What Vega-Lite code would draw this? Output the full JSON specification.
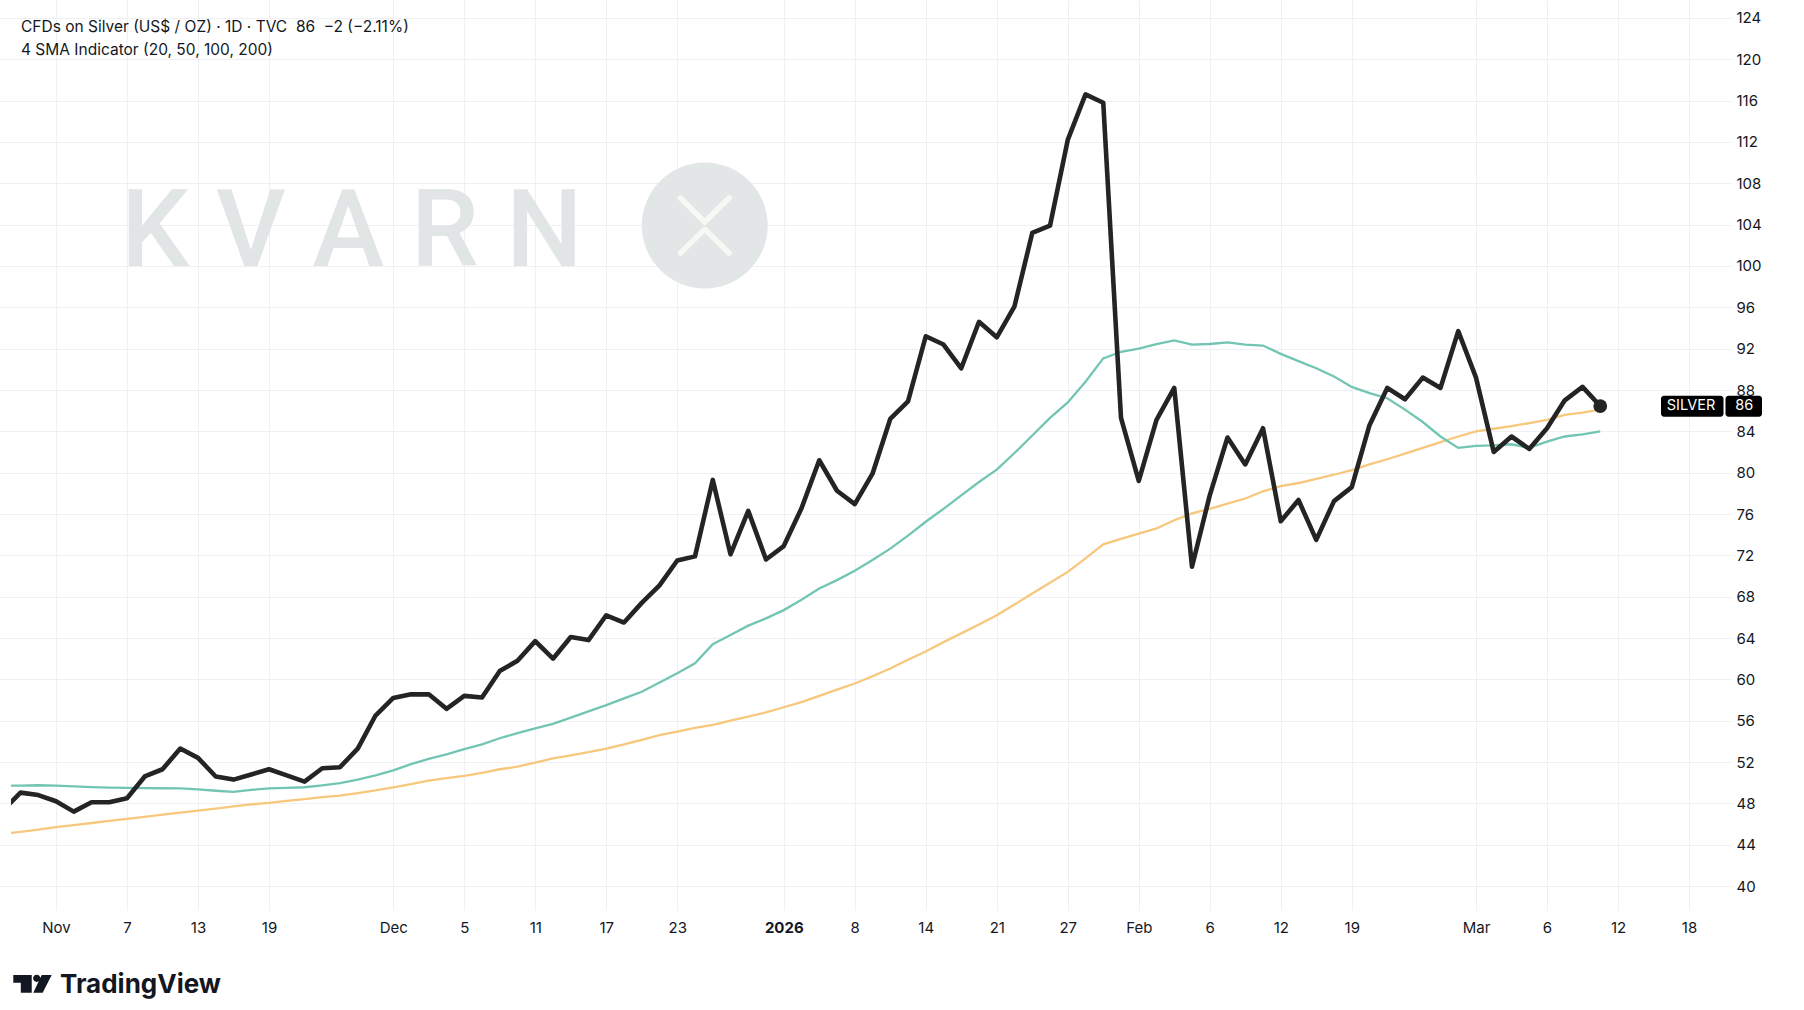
{
  "$schema": "https://vega.github.io/schema/vega-lite/v6.json",
  "width": 1712,
  "height": 910,
  "autosize": {"type": "none"},
  "padding": {"left": 11, "top": 0, "right": 81, "bottom": 100},
  "background": "#ffffff",
  "config": {
    "view": {"stroke": null},
    "font": "Inter",
    "axis": {
      "labelFont": "Inter",
      "labelFontSize": 15,
      "labelColor": "#131722",
      "gridColor": "#eff0f2",
      "gridWidth": 1,
      "domain": false,
      "ticks": false
    }
  },
  "title": {
    "text": [
      "CFDs on Silver (US$ / OZ) · 1D · TVC\u00a0 86\u00a0 −2 (−2.11%)",
      "4 SMA Indicator (20, 50, 100, 200)"
    ],
    "anchor": "start",
    "frame": "group",
    "orient": "top",
    "offset": -58,
    "dx": 10,
    "font": "Inter",
    "fontSize": 15.5,
    "fontWeight": 400,
    "lineHeight": 22.5,
    "color": "#131722"
  },
  "datasets": {
    "silver": [
      {"date": "2025-10-29", "close": 47.3, "sma20": 49.7, "sma50": 45.05},
      {"date": "2025-10-30", "close": 49.04, "sma20": 49.72, "sma50": 45.25},
      {"date": "2025-10-31", "close": 48.8, "sma20": 49.75, "sma50": 45.45},
      {"date": "2025-11-03", "close": 48.2, "sma20": 49.72, "sma50": 45.7},
      {"date": "2025-11-04", "close": 47.2, "sma20": 49.65, "sma50": 45.9},
      {"date": "2025-11-05", "close": 48.1, "sma20": 49.58, "sma50": 46.1},
      {"date": "2025-11-06", "close": 48.1, "sma20": 49.53, "sma50": 46.3},
      {"date": "2025-11-07", "close": 48.5, "sma20": 49.5, "sma50": 46.5},
      {"date": "2025-11-10", "close": 50.6, "sma20": 49.48, "sma50": 46.7},
      {"date": "2025-11-11", "close": 51.3, "sma20": 49.46, "sma50": 46.9},
      {"date": "2025-11-12", "close": 53.3, "sma20": 49.45, "sma50": 47.1},
      {"date": "2025-11-13", "close": 52.4, "sma20": 49.35, "sma50": 47.3},
      {"date": "2025-11-14", "close": 50.6, "sma20": 49.22, "sma50": 47.5},
      {"date": "2025-11-17", "close": 50.3, "sma20": 49.12, "sma50": 47.7},
      {"date": "2025-11-18", "close": 50.8, "sma20": 49.3, "sma50": 47.9},
      {"date": "2025-11-19", "close": 51.3, "sma20": 49.45, "sma50": 48.05},
      {"date": "2025-11-20", "close": 50.7, "sma20": 49.5, "sma50": 48.25},
      {"date": "2025-11-21", "close": 50.1, "sma20": 49.56, "sma50": 48.4},
      {"date": "2025-11-24", "close": 51.4, "sma20": 49.75, "sma50": 48.6},
      {"date": "2025-11-25", "close": 51.5, "sma20": 49.95, "sma50": 48.75},
      {"date": "2025-11-26", "close": 53.3, "sma20": 50.3, "sma50": 49.0},
      {"date": "2025-11-28", "close": 56.5, "sma20": 50.7, "sma50": 49.25},
      {"date": "2025-12-01", "close": 58.2, "sma20": 51.2, "sma50": 49.55},
      {"date": "2025-12-02", "close": 58.55, "sma20": 51.8, "sma50": 49.85},
      {"date": "2025-12-03", "close": 58.55, "sma20": 52.3, "sma50": 50.2},
      {"date": "2025-12-04", "close": 57.15, "sma20": 52.75, "sma50": 50.45},
      {"date": "2025-12-05", "close": 58.4, "sma20": 53.25, "sma50": 50.65},
      {"date": "2025-12-08", "close": 58.25, "sma20": 53.7, "sma50": 50.95},
      {"date": "2025-12-09", "close": 60.8, "sma20": 54.3, "sma50": 51.3},
      {"date": "2025-12-10", "close": 61.8, "sma20": 54.8, "sma50": 51.55},
      {"date": "2025-12-11", "close": 63.7, "sma20": 55.26, "sma50": 51.95},
      {"date": "2025-12-12", "close": 62.0, "sma20": 55.7, "sma50": 52.35},
      {"date": "2025-12-15", "close": 64.1, "sma20": 56.3, "sma50": 52.65},
      {"date": "2025-12-16", "close": 63.8, "sma20": 56.9, "sma50": 52.95},
      {"date": "2025-12-17", "close": 66.2, "sma20": 57.5, "sma50": 53.3},
      {"date": "2025-12-18", "close": 65.5, "sma20": 58.16, "sma50": 53.7},
      {"date": "2025-12-19", "close": 67.4, "sma20": 58.8, "sma50": 54.15},
      {"date": "2025-12-22", "close": 69.1, "sma20": 59.7, "sma50": 54.6},
      {"date": "2025-12-23", "close": 71.5, "sma20": 60.6, "sma50": 54.95},
      {"date": "2025-12-24", "close": 71.9, "sma20": 61.55, "sma50": 55.3},
      {"date": "2025-12-26", "close": 79.3, "sma20": 63.4, "sma50": 55.6},
      {"date": "2025-12-29", "close": 72.1, "sma20": 64.3, "sma50": 56.0},
      {"date": "2025-12-30", "close": 76.3, "sma20": 65.2, "sma50": 56.4},
      {"date": "2025-12-31", "close": 71.6, "sma20": 65.9, "sma50": 56.8},
      {"date": "2026-01-02", "close": 72.9, "sma20": 66.7, "sma50": 57.3},
      {"date": "2026-01-05", "close": 76.55, "sma20": 67.7, "sma50": 57.8},
      {"date": "2026-01-06", "close": 81.2, "sma20": 68.8, "sma50": 58.4},
      {"date": "2026-01-07", "close": 78.25, "sma20": 69.6, "sma50": 59.0},
      {"date": "2026-01-08", "close": 76.95, "sma20": 70.5, "sma50": 59.6},
      {"date": "2026-01-09", "close": 79.9, "sma20": 71.55, "sma50": 60.3},
      {"date": "2026-01-12", "close": 85.2, "sma20": 72.65, "sma50": 61.05},
      {"date": "2026-01-13", "close": 86.9, "sma20": 73.9, "sma50": 61.9},
      {"date": "2026-01-14", "close": 93.2, "sma20": 75.25, "sma50": 62.7},
      {"date": "2026-01-15", "close": 92.4, "sma20": 76.5, "sma50": 63.6},
      {"date": "2026-01-16", "close": 90.1, "sma20": 77.8, "sma50": 64.45},
      {"date": "2026-01-20", "close": 94.6, "sma20": 79.1, "sma50": 65.3},
      {"date": "2026-01-21", "close": 93.1, "sma20": 80.3, "sma50": 66.2},
      {"date": "2026-01-22", "close": 96.1, "sma20": 81.9, "sma50": 67.25},
      {"date": "2026-01-23", "close": 103.2, "sma20": 83.6, "sma50": 68.3},
      {"date": "2026-01-26", "close": 103.9, "sma20": 85.3, "sma50": 69.35},
      {"date": "2026-01-27", "close": 112.2, "sma20": 86.8, "sma50": 70.4},
      {"date": "2026-01-28", "close": 116.6, "sma20": 88.8, "sma50": 71.7},
      {"date": "2026-01-29", "close": 115.8, "sma20": 91.06, "sma50": 73.06},
      {"date": "2026-01-30", "close": 85.3, "sma20": 91.7, "sma50": 73.6},
      {"date": "2026-02-02", "close": 79.2, "sma20": 92.0, "sma50": 74.1},
      {"date": "2026-02-03", "close": 85.1, "sma20": 92.45, "sma50": 74.6},
      {"date": "2026-02-04", "close": 88.2, "sma20": 92.8, "sma50": 75.4},
      {"date": "2026-02-05", "close": 70.9, "sma20": 92.4, "sma50": 76.06},
      {"date": "2026-02-06", "close": 77.8, "sma20": 92.45, "sma50": 76.5},
      {"date": "2026-02-09", "close": 83.4, "sma20": 92.6, "sma50": 77.0},
      {"date": "2026-02-10", "close": 80.8, "sma20": 92.4, "sma50": 77.5},
      {"date": "2026-02-11", "close": 84.3, "sma20": 92.3, "sma50": 78.2},
      {"date": "2026-02-12", "close": 75.3, "sma20": 91.5, "sma50": 78.7},
      {"date": "2026-02-13", "close": 77.35, "sma20": 90.8, "sma50": 79.0},
      {"date": "2026-02-17", "close": 73.5, "sma20": 90.1, "sma50": 79.4},
      {"date": "2026-02-18", "close": 77.25, "sma20": 89.3, "sma50": 79.8},
      {"date": "2026-02-19", "close": 78.6, "sma20": 88.3, "sma50": 80.25},
      {"date": "2026-02-20", "close": 84.6, "sma20": 87.7, "sma50": 80.8},
      {"date": "2026-02-23", "close": 88.2, "sma20": 87.2, "sma50": 81.3},
      {"date": "2026-02-24", "close": 87.1, "sma20": 86.1, "sma50": 81.85},
      {"date": "2026-02-25", "close": 89.2, "sma20": 84.9, "sma50": 82.4},
      {"date": "2026-02-26", "close": 88.2, "sma20": 83.5, "sma50": 82.95},
      {"date": "2026-02-27", "close": 93.7, "sma20": 82.4, "sma50": 83.5},
      {"date": "2026-03-02", "close": 89.2, "sma20": 82.6, "sma50": 84.0},
      {"date": "2026-03-03", "close": 82.0, "sma20": 82.65, "sma50": 84.25},
      {"date": "2026-03-04", "close": 83.5, "sma20": 82.75, "sma50": 84.5},
      {"date": "2026-03-05", "close": 82.3, "sma20": 82.4, "sma50": 84.8},
      {"date": "2026-03-06", "close": 84.3, "sma20": 83.0, "sma50": 85.1},
      {"date": "2026-03-09", "close": 87.0, "sma20": 83.5, "sma50": 85.6},
      {"date": "2026-03-10", "close": 88.3, "sma20": 83.7, "sma50": 85.8},
      {"date": "2026-03-11", "close": 86.45, "sma20": 84.0, "sma50": 86.1}
    ]
  },
  "encoding": {
    "x": {
      "field": "date",
      "type": "ordinal",
      "title": null,
      "scale": {
        "type": "point",
        "padding": 0,
        "range": [-8.25, 1766.75],
        "domain": [
          "2025-10-29", "2025-10-30", "2025-10-31",
          "2025-11-03", "2025-11-04", "2025-11-05", "2025-11-06", "2025-11-07",
          "2025-11-10", "2025-11-11", "2025-11-12", "2025-11-13", "2025-11-14",
          "2025-11-17", "2025-11-18", "2025-11-19", "2025-11-20", "2025-11-21",
          "2025-11-24", "2025-11-25", "2025-11-26", "2025-11-28",
          "2025-12-01", "2025-12-02", "2025-12-03", "2025-12-04", "2025-12-05",
          "2025-12-08", "2025-12-09", "2025-12-10", "2025-12-11", "2025-12-12",
          "2025-12-15", "2025-12-16", "2025-12-17", "2025-12-18", "2025-12-19",
          "2025-12-22", "2025-12-23", "2025-12-24", "2025-12-26",
          "2025-12-29", "2025-12-30", "2025-12-31", "2026-01-02",
          "2026-01-05", "2026-01-06", "2026-01-07", "2026-01-08", "2026-01-09",
          "2026-01-12", "2026-01-13", "2026-01-14", "2026-01-15", "2026-01-16",
          "2026-01-20", "2026-01-21", "2026-01-22", "2026-01-23",
          "2026-01-26", "2026-01-27", "2026-01-28", "2026-01-29", "2026-01-30",
          "2026-02-02", "2026-02-03", "2026-02-04", "2026-02-05", "2026-02-06",
          "2026-02-09", "2026-02-10", "2026-02-11", "2026-02-12", "2026-02-13",
          "2026-02-17", "2026-02-18", "2026-02-19", "2026-02-20",
          "2026-02-23", "2026-02-24", "2026-02-25", "2026-02-26", "2026-02-27",
          "2026-03-02", "2026-03-03", "2026-03-04", "2026-03-05", "2026-03-06",
          "2026-03-09", "2026-03-10", "2026-03-11", "2026-03-12", "2026-03-13",
          "2026-03-16", "2026-03-17", "2026-03-18", "2026-03-19", "2026-03-20",
          "2026-03-23", "2026-03-24", "2026-03-25"
        ]
      },
      "axis": {
        "values": [
          "2025-11-03", "2025-11-07", "2025-11-13", "2025-11-19",
          "2025-12-01", "2025-12-05", "2025-12-11", "2025-12-17", "2025-12-23",
          "2026-01-02", "2026-01-08", "2026-01-14", "2026-01-21", "2026-01-27",
          "2026-02-02", "2026-02-06", "2026-02-12", "2026-02-19",
          "2026-03-02", "2026-03-06", "2026-03-12", "2026-03-18"
        ],
        "labelExpr": "datum.value == '2025-11-03' ? 'Nov' : datum.value == '2025-12-01' ? 'Dec' : datum.value == '2026-01-02' ? '2026' : datum.value == '2026-02-02' ? 'Feb' : datum.value == '2026-03-02' ? 'Mar' : '' + toNumber(slice(datum.value, 8))",
        "labelFontWeight": {"condition": {"test": "datum.value == '2026-01-02'", "value": "bold"}, "value": "normal"},
        "labelAngle": 0,
        "labelBaseline": "middle",
        "labelPadding": 17,
        "labelOverlap": false,
        "labelFlush": false,
        "labelBound": false,
        "grid": true,
        "title": null
      }
    }
  },
  "layer": [
    {
      "data": {"values": [{"date": "2025-11-26", "level": 100, "label": "K V A R N"}]},
      "mark": {"type": "text", "font": "Roboto", "fontSize": 108, "fontWeight": 500, "color": "#e1e5e5", "align": "center", "baseline": "alphabetic", "dx": -6},
      "encoding": {
        "y": {"field": "level", "type": "quantitative", "title": null, "scale": {"domain": [37.68, 125.74], "nice": false, "zero": false}},
        "text": {"field": "label"}
      }
    },
    {
      "data": {"values": [{"date": "2025-12-26", "level": 103.92}]},
      "mark": {"type": "point", "shape": "circle", "filled": true, "size": 15876, "color": "#e2e6e6", "opacity": 1, "xOffset": -8},
      "encoding": {
        "y": {"field": "level", "type": "quantitative", "title": null, "scale": {"domain": [37.68, 125.74], "nice": false, "zero": false}}
      }
    },
    {
      "data": {"values": [{"date": "2025-12-26", "level": 103.92}]},
      "mark": {"type": "point", "shape": "M-0.76,-0.86L0,-0.11L0.76,-0.86M-0.76,0.86L0,0.12L0.76,0.86", "filled": false, "size": 4096, "stroke": "#f4f9f4", "strokeWidth": 5.5, "strokeCap": "round", "strokeJoin": "round", "opacity": 1, "xOffset": -8},
      "encoding": {
        "y": {"field": "level", "type": "quantitative", "title": null, "scale": {"domain": [37.68, 125.74], "nice": false, "zero": false}}
      }
    },
    {
      "data": {"name": "silver"},
      "mark": {"type": "line", "color": "#f7c77c", "strokeWidth": 2.3, "clip": true},
      "encoding": {
        "y": {"field": "sma50", "type": "quantitative", "title": null, "scale": {"domain": [37.68, 125.74], "nice": false, "zero": false}}
      }
    },
    {
      "data": {"name": "silver"},
      "mark": {"type": "line", "color": "#72c5b3", "strokeWidth": 2.3, "clip": true},
      "encoding": {
        "y": {"field": "sma20", "type": "quantitative", "title": null, "scale": {"domain": [37.68, 125.74], "nice": false, "zero": false}}
      }
    },
    {
      "data": {"name": "silver"},
      "mark": {"type": "line", "color": "#242424", "strokeWidth": 4.6, "strokeJoin": "round", "clip": true},
      "encoding": {
        "y": {
          "field": "close",
          "type": "quantitative",
          "title": null,
          "scale": {"domain": [37.68, 125.74], "nice": false, "zero": false},
          "axis": {
            "orient": "right",
            "values": [40, 44, 48, 52, 56, 60, 64, 68, 72, 76, 80, 84, 88, 92, 96, 100, 104, 108, 112, 116, 120, 124],
            "labelAlign": "left",
            "labelPadding": 13,
            "grid": true,
            "title": null
          }
        }
      }
    },
    {
      "data": {"name": "silver"},
      "transform": [{"filter": "datum.date == '2026-03-11'"}],
      "mark": {"type": "point", "shape": "circle", "filled": true, "size": 190, "color": "#242424", "opacity": 1},
      "encoding": {
        "y": {"field": "close", "type": "quantitative", "title": null, "scale": {"domain": [37.68, 125.74], "nice": false, "zero": false}}
      }
    },
    {
      "data": {"values": [{"date": "2026-03-16", "until": "2026-03-20"}]},
      "mark": {"type": "rect", "color": "#000000", "cornerRadius": 3, "xOffset": 7.5, "x2Offset": -1},
      "encoding": {
        "x": {"field": "date", "type": "ordinal"},
        "x2": {"field": "until"},
        "y": {"datum": 85.42, "type": "quantitative", "title": null, "scale": {"domain": [37.68, 125.74], "nice": false, "zero": false}},
        "y2": {"datum": 87.44}
      }
    },
    {
      "data": {"values": [{"date": "2026-03-20", "until": "2026-03-24"}]},
      "mark": {"type": "rect", "color": "#000000", "cornerRadius": 3, "xOffset": 1, "x2Offset": 2},
      "encoding": {
        "x": {"field": "date", "type": "ordinal"},
        "x2": {"field": "until"},
        "y": {"datum": 85.42, "type": "quantitative", "title": null, "scale": {"domain": [37.68, 125.74], "nice": false, "zero": false}},
        "y2": {"datum": 87.44}
      }
    },
    {
      "data": {"values": [{"date": "2026-03-18", "label": "SILVER"}, {"date": "2026-03-23", "label": "86"}]},
      "mark": {"type": "text", "font": "Inter", "fontSize": 14.5, "color": "#ffffff", "align": "center", "baseline": "middle", "dx": 2},
      "encoding": {
        "y": {"datum": 86.43, "type": "quantitative", "title": null, "scale": {"domain": [37.68, 125.74], "nice": false, "zero": false}},
        "text": {"field": "label"}
      }
    },
    {
      "data": {"values": [{"date": "2025-10-31", "level": 30.53}]},
      "mark": {"type": "point", "shape": "M-1,-0.46L-0.04,-0.46L-0.04,0.46L-0.61,0.46L-0.61,-0.06L-1,-0.06Z M0.03,-0.29A0.19,0.19 0 1,1 0.41,-0.29A0.19,0.19 0 1,1 0.03,-0.29Z M0.48,-0.46L1,-0.46L0.53,0.46L0.04,0.46Z", "filled": true, "size": 1475, "color": "#131722", "opacity": 1, "xOffset": -5.75},
      "encoding": {
        "y": {"field": "level", "type": "quantitative", "title": null, "scale": {"domain": [37.68, 125.74], "nice": false, "zero": false}}
      }
    },
    {
      "data": {"values": [{"date": "2025-11-03", "level": 29.67, "label": "TradingView"}]},
      "mark": {"type": "text", "font": "Inter", "fontSize": 26, "fontWeight": 700, "color": "#131722", "align": "left", "baseline": "alphabetic", "dx": 4},
      "encoding": {
        "y": {"field": "level", "type": "quantitative", "title": null, "scale": {"domain": [37.68, 125.74], "nice": false, "zero": false}},
        "text": {"field": "label"}
      }
    },
    {
      "mark": {"type": "rule", "color": "#e0e3eb", "strokeWidth": 1, "xOffset": 7, "x2Offset": 14},
      "encoding": {
        "x": {"datum": "2025-10-29", "type": "ordinal"},
        "x2": {"datum": "2026-03-25"},
        "y": {"datum": 34.1, "type": "quantitative", "title": null, "scale": {"domain": [37.68, 125.74], "nice": false, "zero": false}}
      }
    },
    {
      "mark": {"type": "rule", "color": "#e0e3eb", "strokeWidth": 1, "xOffset": 14},
      "encoding": {
        "x": {"datum": "2026-03-25", "type": "ordinal"},
        "y": {"datum": 125.74, "type": "quantitative", "title": null, "scale": {"domain": [37.68, 125.74], "nice": false, "zero": false}},
        "y2": {"datum": 34.1}
      }
    },
    {
      "mark": {"type": "rule", "color": "#e0e3eb", "strokeWidth": 1, "xOffset": 7},
      "encoding": {
        "x": {"datum": "2025-10-29", "type": "ordinal"},
        "y": {"datum": 125.74, "type": "quantitative", "title": null, "scale": {"domain": [37.68, 125.74], "nice": false, "zero": false}},
        "y2": {"datum": 34.1}
      }
    }
  ]
}
